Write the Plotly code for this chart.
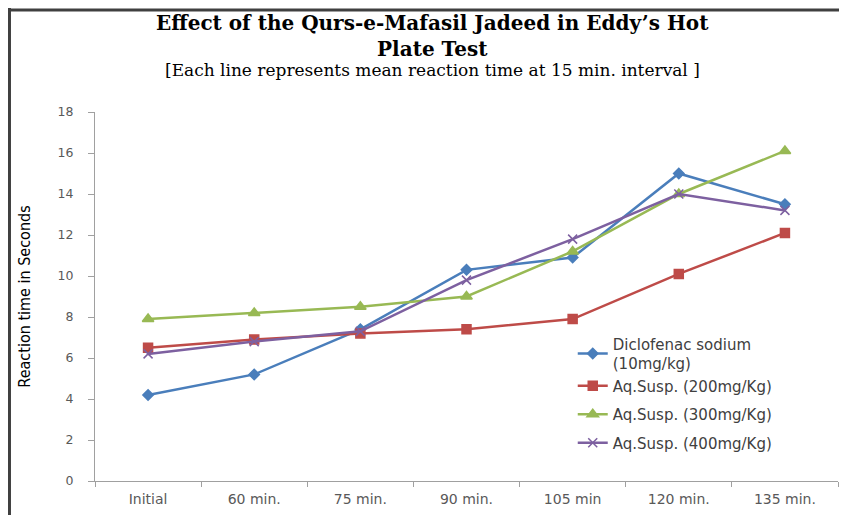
import plotly.graph_objects as go

categories = ["Initial", "60 min.", "75 min.", "90 min.", "105 min", "120 min.", "135 min."]
diclofenac = [4.2, 5.2, 7.4, 10.3, 10.9, 15.0, 13.5]
aq200 = [6.5, 6.9, 7.2, 7.4, 7.9, 10.1, 12.1]
aq300 = [7.9, 8.2, 8.5, 9.0, 11.2, 14.0, 16.1]
aq400 = [6.2, 6.8, 7.3, 9.8, 11.8, 14.0, 13.2]

series = [
    ("Diclofenac sodium<br>(10mg/kg)", diclofenac, "#4A7EBB", "diamond", 8, "g0"),
    ("Aq.Susp. (200mg/Kg)", aq200, "#BE4B48", "square", 9, "g0"),
    ("Aq.Susp. (300mg/Kg)", aq300, "#98B954", "triangle-up", 10, "g1"),
    ("Aq.Susp. (400mg/Kg)", aq400, "#7D60A0", "x-thin-open", 9, "g2"),
]

fig = go.Figure()
for name, vals, color, sym, size, grp in series:
    fig.add_trace(go.Scatter(
        x=categories, y=vals, name=name, mode="lines+markers", legendgroup=grp,
        line=dict(color=color, width=2.5),
        marker=dict(symbol=sym, size=size, color=color, line=dict(color=color, width=1.5)),
    ))

fig.update_layout(
    width=847, height=515,
    margin=dict(l=87, r=17, t=104, b=42),
    paper_bgcolor="white", plot_bgcolor="white",
    showlegend=True,
    legend=dict(x=0.643, y=0.416, xanchor="left", yanchor="top",
                font=dict(family="DejaVu Sans", size=15, color="#404040"),
                bgcolor="rgba(0,0,0,0)", tracegroupgap=6, itemwidth=30,
                groupclick="toggleitem"),
    xaxis=dict(type="category", showgrid=False, showline=True, linecolor="#A0A0A0", linewidth=1,
               ticks="outside", tickson="boundaries", ticklen=5, tickcolor="#A0A0A0",
               tickfont=dict(family="DejaVu Sans", size=14, color="#595959"),
               ticklabelstandoff=5,
               range=[-0.5, 6.5]),
    yaxis=dict(range=[0, 18], dtick=2, showgrid=False, showline=True, linecolor="#A0A0A0",
               linewidth=1, ticks="outside", ticklen=6, tickcolor="#A0A0A0",
               tickfont=dict(family="DejaVu Sans", size=12.5, color="#595959"),
               ticklabelstandoff=12,
               zeroline=False,
               title=dict(text="Reaction time in Seconds",
                          font=dict(family="Liberation Sans Narrow, DejaVu Sans Condensed, Arial Narrow", size=16, color="#000000"),
                          standoff=22)),
    annotations=[
        dict(text="<b>Effect of the Qurs-e-Mafasil Jadeed in Eddy’s Hot<br>Plate Test</b>",
             xref="paper", yref="paper", x=0.4536, y=1.2049, xanchor="center", yanchor="middle",
             align="center", showarrow=False,
             font=dict(family="DejaVu Serif", size=20, color="#000000")),
        dict(text="[Each line represents mean reaction time at 15 min. interval ]",
             xref="paper", yref="paper", x=0.4536, y=1.113, xanchor="center", yanchor="middle",
             showarrow=False, font=dict(family="DejaVu Serif", size=17, color="#000000")),
    ],
    shapes=[
        dict(type="line", xref="paper", yref="paper", x0=-0.1151, x1=-0.1151, y0=1.29, y1=-0.2,
             line=dict(color="#404040", width=3)),
        dict(type="line", xref="paper", yref="paper", x0=-0.12, x1=1.05, y0=1.2766, y1=1.2766,
             line=dict(color="#404040", width=3)),
    ],
)

fig.write_html("out.html")
